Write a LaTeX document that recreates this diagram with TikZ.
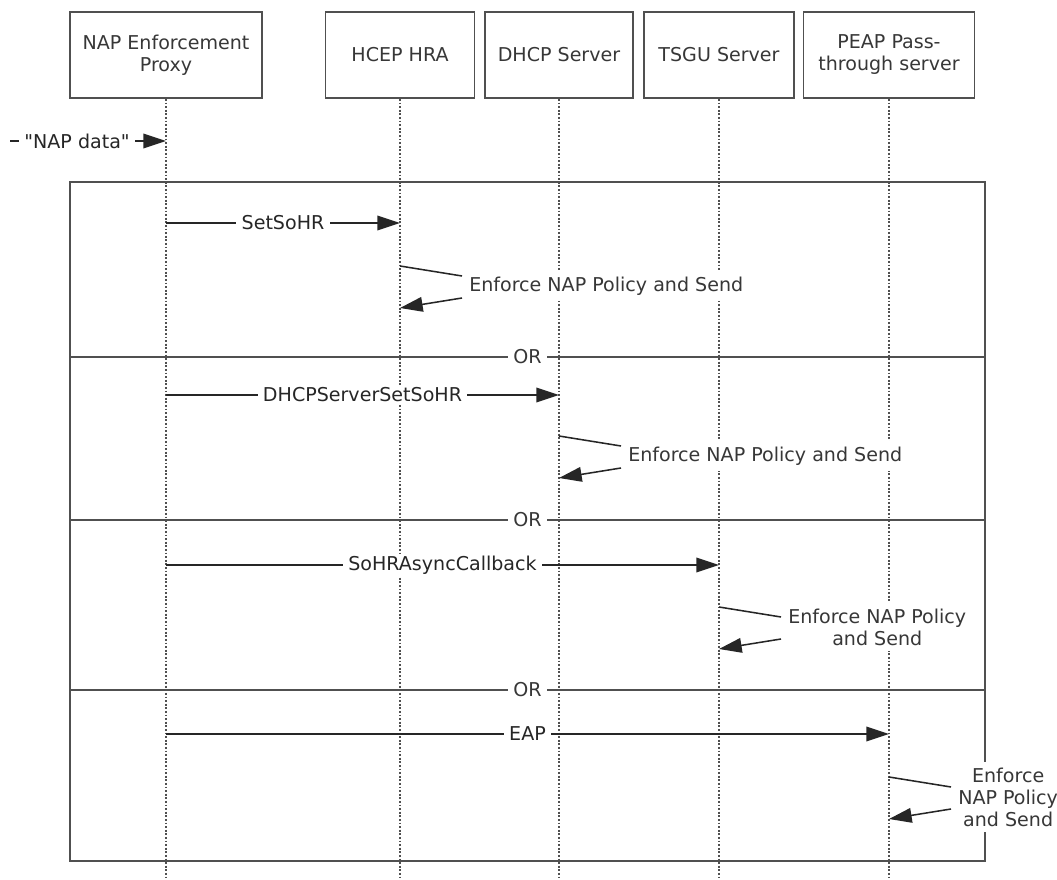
\documentclass[tikz,border=0pt]{standalone}
\usepackage{fontspec}
\setmainfont{DejaVu Sans}[Ligatures=TeXOff]
\usetikzlibrary{arrows.meta,calc,positioning}

\definecolor{linegray}{RGB}{80,80,80}
\definecolor{textgray}{RGB}{55,55,55}

\begin{document}
\begin{tikzpicture}[x=0.75pt,y=-0.75pt,>={Triangle[length=17pt,width=11pt]},
  font=\fontsize{14.3}{16.5}\selectfont,text=textgray,
  actor/.style={draw=linegray,line width=1.4pt,align=center,minimum height=64.5pt,inner sep=2pt},
  life/.style={linegray,line width=1.3pt,dash pattern=on 1.4pt off 1.3pt},
  frame/.style={draw=linegray,line width=1.4pt},
  msg/.style={->,black!85,line width=1.15pt},
  lbl/.style={fill=white,inner xsep=4pt,inner ysep=1pt},
  note/.style={fill=white,align=center,inner xsep=3pt,inner ysep=4pt}]
  \useasboundingbox (0,0) rectangle (1057,880);
  % participants
  \node[actor,minimum width=144pt]    (nep)  at (166,55) {NAP Enforcement\\Proxy};
  \node[actor,minimum width=111.75pt] (hra)  at (400,55) {HCEP HRA};
  \node[actor,minimum width=111pt]    (dhcp) at (559,55) {DHCP Server};
  \node[actor,minimum width=112.5pt]  (tsgu) at (719,55) {TSGU Server};
  \node[actor,minimum width=128.25pt] (peap) at (889,55) {PEAP Pass-\\through server};
  % lifelines
  \coordinate (bot) at (0,880);
  \foreach \a in {nep,hra,dhcp,tsgu,peap}
    \draw[life] (\a.south) -- (\a.south |- bot);
  % incoming data
  \coordinate (src) at (10,141);
  \draw[msg] (src) -- node[lbl,pos=0.43] (napdata) {"NAP data"} (nep |- src);
  % alternatives frame
  \coordinate (fr-nw) at (70,182);
  \coordinate (fr-se) at (985,861);
  \draw[frame] (fr-nw) rectangle (fr-se);
  \foreach \y [count=\i] in {357,520,690}
    \draw[frame] (fr-nw |- 0,\y) -- node[lbl] (or-\i) {OR} (fr-se |- 0,\y);
  % requests from the proxy
  \foreach \dst/\y/\txt [count=\i] in {hra/223/SetSoHR, dhcp/395/DHCPServerSetSoHR,
      tsgu/565/SoHRAsyncCallback, peap/734/EAP}
    \draw[msg] (nep |- 0,\y) -- node[lbl] (req-\i) {\txt} (\dst |- 0,\y);
  % self calls
  \foreach \who/\y/\txt [count=\i] in {hra/266/{Enforce NAP Policy and Send},
      dhcp/436/{Enforce NAP Policy and Send}, tsgu/607/{Enforce NAP Policy\\and Send},
      peap/777/{Enforce\\NAP Policy\\and Send}}{
    \coordinate (s-\i) at (\who |- 0,\y);
    \node[note,anchor=west] (e-\i) at ($(s-\i)+(65,20)$) {\txt};
    \draw[black!85,line width=1.15pt] (s-\i) -- ++(62,10);
    \draw[msg] ($(s-\i)+(62,32)$) -- (\who |- 0,\y+42);
  }
\end{tikzpicture}
\end{document}
